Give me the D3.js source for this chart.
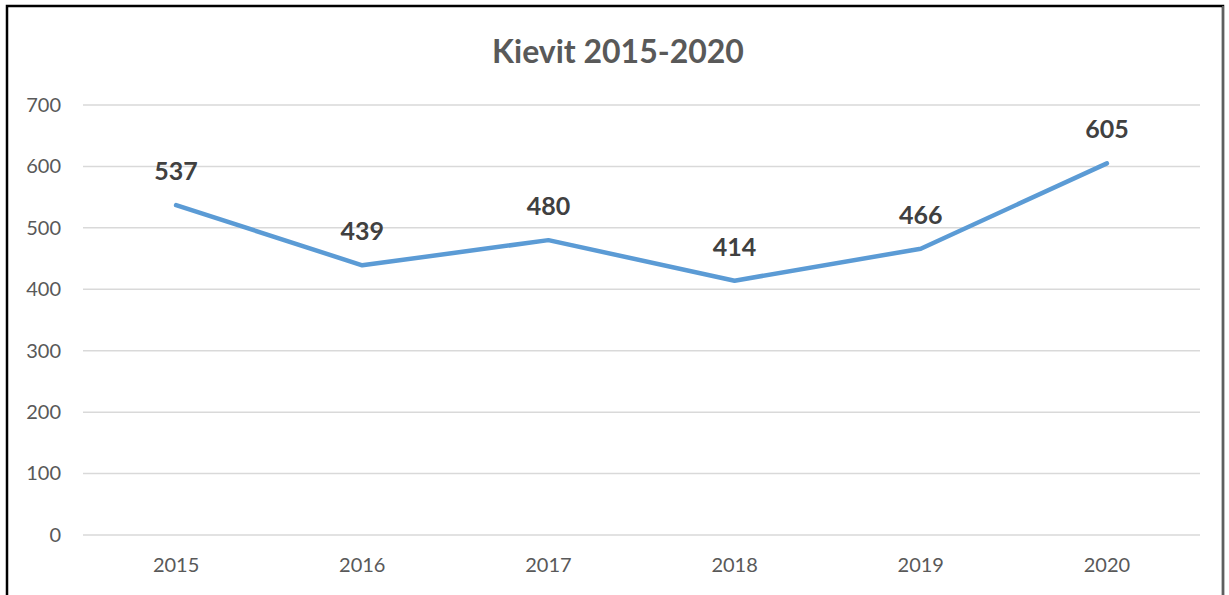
<!DOCTYPE html>
<html lang="nl">
<head>
<meta charset="UTF-8">
<title>Kievit 2015-2020</title>
<style>
    body {
        margin: 0;
        background: #ffffff;
        font-family: Lato, "Open Sans", sans-serif;
    }
    .grid line {
        stroke: #d9d9d9;
        stroke-width: 1.5px;
    }
    .axis text {
        fill: #595959;
        font-size: 20px;
    }
</style>
</head>
<body>
<svg id="chart" width="1229" height="595"></svg>
<script src="https://d3js.org/d3.v7.min.js"></script>
<script>
// gegevens
const years = ["2015", "2016", "2017", "2018", "2019", "2020"];
const counts = [537, 439, 480, 414, 466, 605];
const yTicks = [0, 100, 200, 300, 400, 500, 600, 700];

const svg = d3.select("#chart");

// kader
svg.append("rect")
    .attr("x", 7).attr("y", 6)
    .attr("width", 1216).attr("height", 600)
    .attr("fill", "none")
    .attr("stroke", "#000")
    .attr("stroke-width", 2.5);
svg.append("line")
    .attr("x1", 1223).attr("x2", 1223).attr("y1", 6).attr("y2", 595)
    .attr("stroke", "#7f7f7f").attr("stroke-width", 1.5);

const plot = { left: 83, right: 1200, top: 105, bottom: 535 };

const x = d3.scaleBand().domain(years).range([plot.left, plot.right]);
const y = d3.scaleLinear().domain([0, 700]).range([plot.bottom, plot.top]);

// titel
svg.append("text")
    .attr("x", 618).attr("y", 63)
    .attr("text-anchor", "middle")
    .attr("fill", "#595959")
    .attr("font-size", 32)
    .attr("font-weight", "bold")
    .text("Kievit 2015-2020");

// rasterlijnen
svg.append("g").attr("class", "grid")
    .selectAll("line").data(yTicks).join("line")
    .attr("x1", plot.left).attr("x2", plot.right)
    .attr("y1", d => y(d)).attr("y2", d => y(d));

// assen
const yAxis = svg.append("g").attr("class", "axis")
    .attr("transform", `translate(${plot.left},0)`)
    .call(d3.axisLeft(y).tickValues(yTicks).tickSize(0).tickPadding(22));
yAxis.select(".domain").remove();

const xAxis = svg.append("g").attr("class", "axis")
    .attr("transform", `translate(0,${plot.bottom})`)
    .call(d3.axisBottom(x).tickSize(0).tickPadding(23));
xAxis.select(".domain").remove();
svg.selectAll(".axis text").attr("font-family", "Lato, 'Open Sans', sans-serif");

// lijn
const line = d3.line()
    .x((d, i) => x(years[i]) + x.bandwidth() / 2)
    .y(d => y(d));

svg.append("path")
    .datum(counts)
    .attr("d", line)
    .attr("fill", "none")
    .attr("stroke", "#5b9bd5")
    .attr("stroke-width", 4.5)
    .attr("stroke-linecap", "round")
    .attr("stroke-linejoin", "round");

// labels
svg.append("g").selectAll("text").data(counts).join("text")
    .attr("x", (d, i) => x(years[i]) + x.bandwidth() / 2)
    .attr("y", d => y(d) - 25)
    .attr("text-anchor", "middle")
    .attr("fill", "#404040")
    .attr("font-size", 25)
    .attr("font-weight", "bold")
    .text(d => d);
</script>
</body>
</html>
